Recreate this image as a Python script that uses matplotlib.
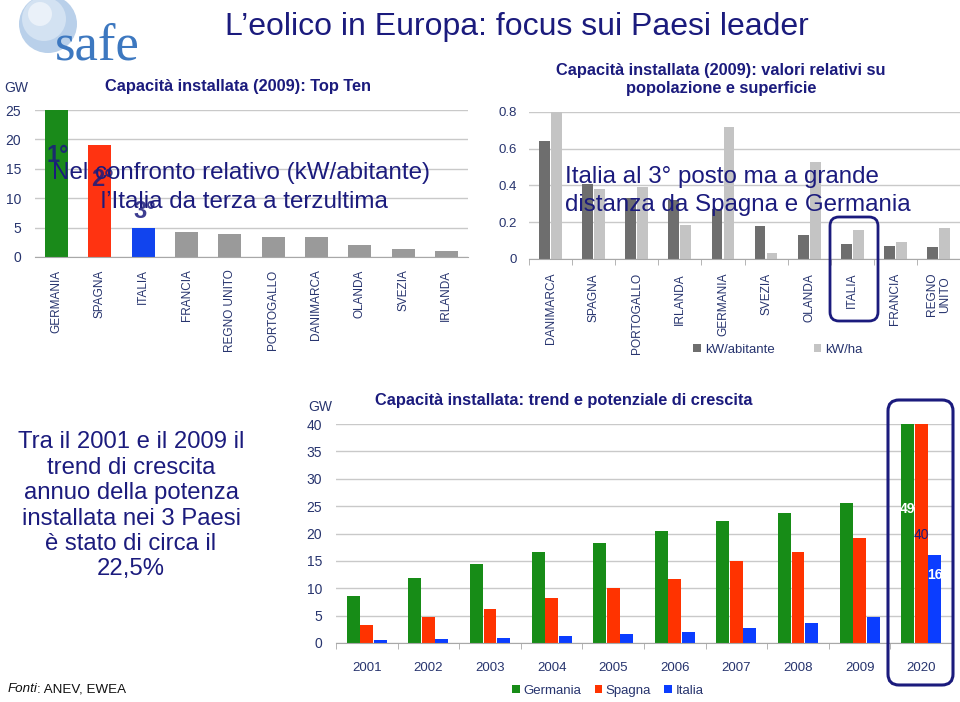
import numpy as np
import matplotlib.pyplot as plt
from matplotlib.patches import FancyBboxPatch, Circle

plt.rcParams['font.family'] = ['Liberation Sans', 'DejaVu Sans']

W, H = 960, 702
NAVY = '#1b1b7d'
TICK = '#27346e'
GRID = '#c9c9c9'
AXLINE = '#a8a8a8'

# capacita installata 2009, top ten (GW)
top_paesi = ['GERMANIA', 'SPAGNA', 'ITALIA', 'FRANCIA', 'REGNO UNITO',
             'PORTOGALLO', 'DANIMARCA', 'OLANDA', 'SVEZIA', 'IRLANDA']
top_gw = [25.7, 19.0, 4.9, 4.3, 3.9, 3.4, 3.4, 2.1, 1.4, 1.1]
top_colori = ['#1a8a1a', '#ff3311', '#1144ee'] + ['#9a9a9a'] * 7

# valori relativi su popolazione e superficie
rel_paesi = ['DANIMARCA', 'SPAGNA', 'PORTOGALLO', 'IRLANDA', 'GERMANIA',
             'SVEZIA', 'OLANDA', 'ITALIA', 'FRANCIA', 'REGNO\nUNITO']
kw_abitante = [0.64, 0.41, 0.33, 0.32, 0.27, 0.18, 0.13, 0.08, 0.07, 0.065]
kw_ha = [0.80, 0.38, 0.39, 0.185, 0.72, 0.03, 0.53, 0.16, 0.09, 0.17]

# trend e potenziale (GW)
anni = ['2001', '2002', '2003', '2004', '2005', '2006', '2007', '2008', '2009', '2020']
germania = [8.6, 11.9, 14.5, 16.6, 18.3, 20.5, 22.2, 23.8, 25.6, 49]
spagna = [3.3, 4.75, 6.15, 8.2, 10.0, 11.6, 15.0, 16.6, 19.1, 40]
italia = [0.6, 0.8, 0.9, 1.25, 1.65, 2.0, 2.7, 3.65, 4.8, 16]


def box(x0, y0, x1, y1):
    return [x0 / W, 1 - y1 / H, (x1 - x0) / W, (y1 - y0) / H]


def stile(ax):
    for s in ['top', 'right', 'left']:
        ax.spines[s].set_visible(False)
    ax.spines['bottom'].set_color(AXLINE)
    ax.grid(axis='y', color=GRID, lw=1)
    ax.set_axisbelow(True)


fig = plt.figure(figsize=(W / 100, H / 100), dpi=100)

# --- grafico 1: top ten
ax1 = fig.add_axes(box(35, 110, 468, 257))
x = np.arange(len(top_paesi))
ax1.bar(x, top_gw, width=0.53, color=top_colori)
ax1.set_xlim(-0.5, 9.5)
ax1.set_ylim(0, 25)
ax1.set_yticks(range(0, 26, 5))
ax1.set_xticks(x, top_paesi, rotation=90, fontsize=8.5, color=TICK)
ax1.tick_params(axis='x', length=0, pad=9)
ax1.tick_params(axis='y', length=0, pad=10, labelsize=10, labelcolor=TICK)
stile(ax1)

# --- grafico 2: valori relativi
ax2 = fig.add_axes(box(529, 112, 960, 259))
x = np.arange(len(rel_paesi))
b1 = ax2.bar(x - 0.14, kw_abitante, width=0.25, color='#6e6e6e', label='kW/abitante')
b2 = ax2.bar(x + 0.14, kw_ha, width=0.25, color='#c4c4c4', label='kW/ha')
ax2.set_xlim(-0.5, 9.5)
ax2.set_ylim(0, 0.8)
ax2.set_yticks([0, 0.2, 0.4, 0.6, 0.8], ['0', '0.2', '0.4', '0.6', '0.8'])
ax2.set_xticks(x, rel_paesi, rotation=90, fontsize=8.6, color=TICK, multialignment='center')
ax2.set_xticks(np.arange(-0.5, 10, 1), minor=True)
ax2.tick_params(axis='x', which='major', length=0, pad=10)
ax2.tick_params(axis='x', which='minor', length=4, color=AXLINE)
ax2.tick_params(axis='y', length=0, pad=9, labelsize=9.5, labelcolor=TICK)
stile(ax2)
fig.legend(handles=[b1, b2], loc='center', bbox_to_anchor=(778 / W, 1 - 350 / H),
           ncol=2, frameon=False, fontsize=9.5, handlelength=0.55, handleheight=0.55,
           handletextpad=0.3, columnspacing=3.0, labelcolor=TICK)

# --- grafico 3: trend
ax3 = fig.add_axes(box(336, 424, 952, 643))
x = np.arange(len(anni))
g = ax3.bar(x - 0.22, germania, width=0.21, color='#178c17', label='Germania')
s = ax3.bar(x, spagna, width=0.21, color='#ff3300', label='Spagna')
i = ax3.bar(x + 0.22, italia, width=0.21, color='#0b3dff', label='Italia')
ax3.set_xlim(-0.5, 9.5)
ax3.set_ylim(0, 40)
ax3.set_yticks(range(0, 41, 5))
ax3.set_xticks(x, anni, fontsize=9.5, color=TICK)
ax3.set_xticks(np.arange(-0.5, 10, 1), minor=True)
ax3.tick_params(axis='x', which='major', length=0, pad=14)
ax3.tick_params(axis='x', which='minor', length=4, color=AXLINE)
ax3.tick_params(axis='y', length=0, pad=10, labelsize=10, labelcolor=TICK)
stile(ax3)
ax3.text(9 - 0.22, 24.4, str(germania[-1]), ha='center', va='center', color='white',
         fontsize=10, fontweight='bold')
ax3.text(9, 19.7, str(spagna[-1]), ha='center', va='center', color=NAVY, fontsize=10)
ax3.text(9 + 0.22, 12.5, str(italia[-1]), ha='center', va='center', color='white',
         fontsize=10, fontweight='bold')
fig.legend(handles=[g, s, i], loc='center', bbox_to_anchor=(608 / W, 1 - 691 / H),
           ncol=3, frameon=False, fontsize=9.5, handlelength=0.55, handleheight=0.55,
           handletextpad=0.3, columnspacing=1.0, labelcolor=TICK)

# --- testi e riquadri in pixel
ov = fig.add_axes([0, 0, 1, 1], zorder=10)
ov.set_xlim(0, W)
ov.set_ylim(H, 0)
ov.axis('off')
ov.patch.set_alpha(0)

# logo
ov.add_patch(Circle((48, 24), 29, fc='#b9d0ea', ec='none'))
ov.add_patch(Circle((44, 19), 22, fc='#d3e2f2', ec='none'))
ov.add_patch(Circle((40, 14), 12, fc='#eaf1f9', ec='none'))
ov.text(97, 46, 'safe', family='Liberation Serif', fontsize=38, color='#3d78c0',
        ha='center', va='center')

ov.text(517, 27, 'L’eolico in Europa: focus sui Paesi leader', fontsize=23,
        color=NAVY, ha='center', va='center')

ov.text(16, 88, 'GW', fontsize=10, color=TICK, ha='center', va='center')
ov.text(238, 86, 'Capacità installata (2009): Top Ten', fontsize=11.8,
        fontweight='bold', color=NAVY, ha='center', va='center')
ov.text(721, 70, 'Capacità installata (2009): valori relativi su', fontsize=11.8,
        fontweight='bold', color=NAVY, ha='center', va='center')
ov.text(721, 88, 'popolazione e superficie', fontsize=11.8,
        fontweight='bold', color=NAVY, ha='center', va='center')
ov.text(320, 407, 'GW', fontsize=10, color=TICK, ha='center', va='center')
ov.text(564, 400, 'Capacità installata: trend e potenziale di crescita', fontsize=11.8,
        fontweight='bold', color=NAVY, ha='center', va='center')

for lab, px, py in [('1°', 58, 156), ('2°', 102, 180), ('3°', 145, 211)]:
    ov.text(px, py, lab, fontsize=17, fontweight='bold', color=NAVY, alpha=0.85,
            ha='center', va='center')
ov.text(241, 173, 'Nel confronto relativo (kW/abitante)', fontsize=17.4,
        color=NAVY, ha='center', va='center')
ov.text(241, 202, ' l’Italia da terza a terzultima', fontsize=17.4,
        color=NAVY, ha='center', va='center')

ov.text(565, 177, 'Italia al 3° posto ma a grande', fontsize=17.4,
        color=NAVY, ha='left', va='center')
ov.text(565, 205, 'distanza da Spagna e Germania', fontsize=17.4,
        color=NAVY, ha='left', va='center')

ov.text(131, 506, 'Tra il 2001 e il 2009 il\ntrend di crescita\nannuo della potenza\n'
        'installata nei 3 Paesi\nè stato di circa il\n22,5%', fontsize=17.2,
        color=NAVY, ha='center', va='center', linespacing=1.2)

ov.text(8, 689, 'Fonti', fontsize=9.6, style='italic', color='#111111', va='center')
ov.text(37, 689, ': ANEV, EWEA', fontsize=9.6, color='#111111', va='center')

ov.add_patch(FancyBboxPatch((830, 217), 48, 104, boxstyle='round,pad=0,rounding_size=9',
                            fc='none', ec=NAVY, lw=2))
ov.add_patch(FancyBboxPatch((888, 400), 65, 285, boxstyle='round,pad=0,rounding_size=11',
                            fc='none', ec=NAVY, lw=2.2))

fig.savefig('out.png', dpi=100)
